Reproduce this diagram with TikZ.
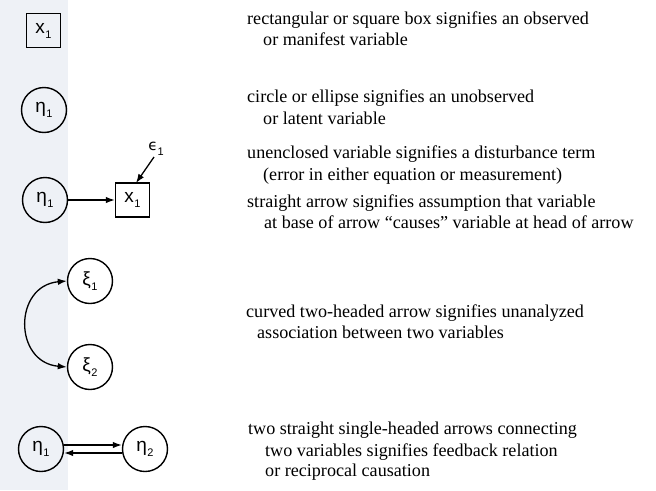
\documentclass[tikz,border=0pt]{standalone}
\usepackage{fontspec}
\setmainfont{Liberation Serif}
\newfontfamily\labfont{Liberation Sans}
\newfontfamily\epsfont{DejaVu Sans}
\usetikzlibrary{arrows.meta}
\definecolor{scanbg}{rgb}{0.935,0.945,0.965}
\newcommand{\vlab}[2]{{\labfont #1\kern0.5pt\raisebox{-0.5ex}{\fontsize{11}{11}\selectfont #2}}}
\begin{document}
\begin{tikzpicture}[x=1pt,y=-1pt,
  obsbox/.style={draw,line width=1.4pt,minimum width=34pt,minimum height=34pt,inner sep=0pt,font=\fontsize{19}{19}\selectfont},
  latvar/.style={draw,circle,line width=1.4pt,minimum size=45pt,inner sep=0pt,font=\fontsize{19}{19}\selectfont},
  conn/.style={line width=1.3pt,-{Latex[length=9pt,width=6.5pt]}},
  desc/.style={anchor=base west,inner sep=0pt,font=\fontsize{18.1}{21}\selectfont}]
\useasboundingbox (0,0) rectangle (656,490);
\fill[white] (0,0) rectangle (656,490);
\fill[scanbg] (0,0) rectangle (68,490);
% row 1
\node[obsbox] (x1a) at (43.5,30.5) {\vlab{x}{1}};
% row 2
\node[latvar] (eta1a) at (44,110) {\vlab{η}{1}};
% row 3
\node[latvar] (eta1b) at (45,200) {\vlab{η}{1}};
\node[obsbox] (x1b) at (132.5,200) {\vlab{x}{1}};
\node[inner sep=1pt] (eps) at (156,149) {{\epsfont\fontsize{15}{15}\selectfont ϵ}\raisebox{-1.0ex}{\labfont\fontsize{11}{11}\selectfont 1}};
\coordinate (epsfoot) at (154,157);
\coordinate (boxtop) at (136,183);
\draw[conn] (eta1b) -- (x1b);
\draw[conn] (epsfoot) -- (boxtop);
% row 4
\node[latvar] (xi1) at (90,281) {\vlab{ξ}{1}};
\node[latvar] (xi2) at (90,367) {\vlab{ξ}{2}};
\draw[line width=1.3pt,{Latex[length=9pt,width=6.5pt]}-{Latex[length=9pt,width=6.5pt]}] (xi1.west) to[out=185,in=175,looseness=1.6] (xi2.west);
% row 5
\node[latvar] (eta1c) at (41,449) {\vlab{η}{1}};
\node[latvar] (eta2c) at (145,449) {\vlab{η}{2}};
\draw[conn] ([yshift=4pt]eta1c.east) -- ([yshift=4pt]eta2c.west);
\draw[conn] ([yshift=-4pt]eta2c.west) -- ([yshift=-4pt]eta1c.east);
% descriptions
\node[desc] (t1) at (247,24) {rectangular or square box signifies an observed};
\node[desc] (t2) at (263,45) {or manifest variable};
\node[desc] (t3) at (247,102) {circle or ellipse signifies an unobserved};
\node[desc] (t4) at (263,124) {or latent variable};
\node[desc] (t5) at (247,158) {unenclosed variable signifies a disturbance term};
\node[desc] (t6) at (263,180) {(error in either equation or measurement)};
\node[desc] (t7) at (247,207) {straight arrow signifies assumption that variable};
\node[desc] (t8) at (264,228) {at base of arrow “causes” variable at head of arrow};
\node[desc] (t9) at (246,317) {curved two-headed arrow signifies unanalyzed};
\node[desc] (t10) at (257,338) {association between two variables};
\node[desc] (t11) at (248,434) {two straight single-headed arrows connecting};
\node[desc] (t12) at (265,456) {two variables signifies feedback relation};
\node[desc] (t13) at (265,476) {or reciprocal causation};
\end{tikzpicture}
\end{document}
